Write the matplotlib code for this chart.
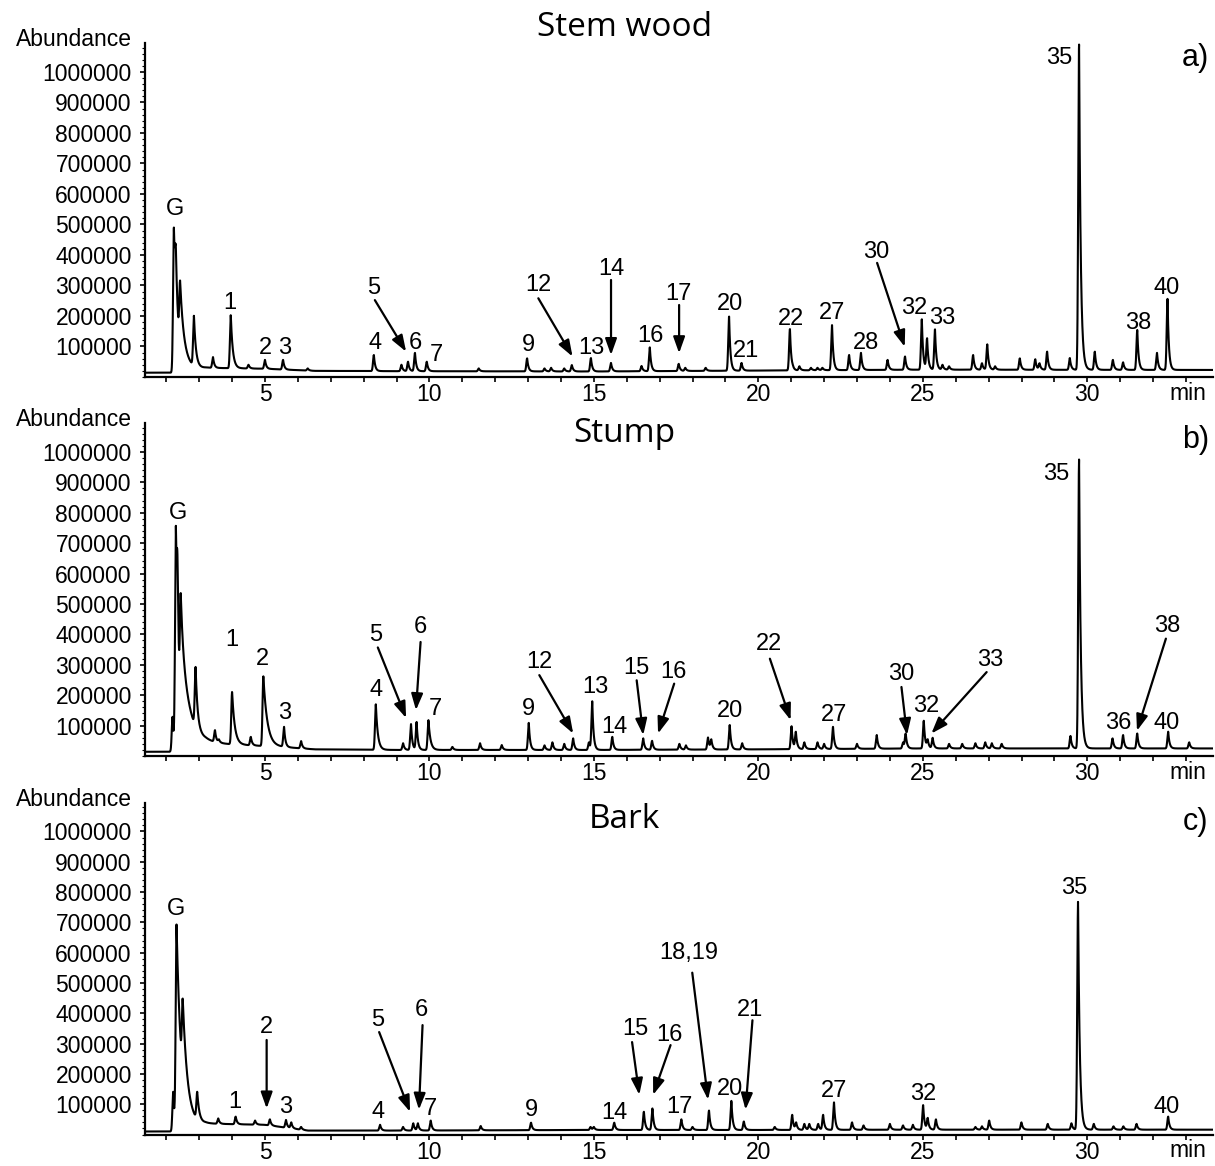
import numpy as np
import matplotlib
matplotlib.use("Agg")
import matplotlib.pyplot as plt
from matplotlib.ticker import MultipleLocator, FuncFormatter

plt.rcParams["font.family"] = ["Liberation Sans", "DejaVu Sans"]

# ---- a) Stem wood ----
stem_base_rt = [1.35, 2.15, 3.2, 5.0, 6.5, 9.0, 15.0, 20.0, 25.0, 33.8]
stem_base_ab = [14000, 14000, 30000, 27000, 20000, 19000, 18000, 21000, 24000, 23000]
stem_tail_rt = [2.23, 2.29, 2.42, 2.84, 3.96, 29.75]
stem_tail_ab = [490000, 423000, 315000, 201000, 203000, 1090000]
stem_tail_tau = [0.08, 0.08, 0.15, 0.06, 0.06, 0.05]
stem_rt = [3.42, 4.5, 5.0, 5.55, 6.3, 8.31, 9.15, 9.35, 9.56, 9.92,
           11.5, 12.97, 13.5, 13.7, 14.1, 14.33, 14.91, 15.52, 16.45, 16.70,
           17.58, 17.78, 18.4, 19.11, 19.49, 20.96, 21.05, 21.25, 21.6, 21.8,
           21.95, 22.24, 22.76, 23.12, 23.93, 24.46, 24.97, 25.13, 25.37, 25.6,
           25.8, 26.53, 26.8, 26.96, 27.2, 27.95, 28.42, 28.55, 28.78, 29.47,
           30.23, 30.78, 31.09, 31.52, 32.12, 32.44]
stem_ab = [65000, 40000, 56000, 56000, 28000, 72000, 40000, 50000, 79000, 50000,
           28000, 61000, 28000, 30000, 28000, 39000, 62000, 46000, 36000, 97000,
           43000, 30000, 30000, 198000, 46000, 157000, 39000, 35000, 30000, 30000,
           30000, 170000, 72000, 79000, 56000, 67000, 189000, 127000, 156000, 40000,
           35000, 72000, 45000, 107000, 35000, 61000, 58000, 45000, 83000, 62000,
           83000, 56000, 48000, 154000, 79000, 256000]

# ---- b) Stump ----
stump_base_rt = [1.35, 2.15, 3.2, 4.4, 5.5, 6.5, 9.0, 15.0, 20.0, 25.0, 33.8]
stump_base_ab = [14000, 14000, 42000, 36000, 30000, 22000, 20000, 20000, 22000, 25000, 25000]
stump_tail_rt = [2.29, 2.34, 2.44, 2.89, 4.0, 4.95, 8.37, 9.97, 29.75]
stump_tail_ab = [757000, 653000, 533000, 293000, 211000, 262000, 170000, 118000, 975000]
stump_tail_tau = [0.06, 0.06, 0.25, 0.06, 0.08, 0.12, 0.06, 0.06, 0.05]
stump_rt = [2.19, 3.48, 3.6, 4.57, 5.58, 6.1, 9.2, 9.44, 9.61, 10.7,
            11.54, 12.2, 13.02, 13.5, 13.74, 14.1, 14.37, 14.85, 14.95, 15.56,
            16.5, 16.77, 17.6, 17.8, 18.47, 18.57, 19.13, 19.51, 21.01, 21.14,
            21.4, 21.8, 22.0, 22.27, 23.0, 23.6, 24.4, 24.48, 25.03, 25.15,
            25.3, 25.8, 26.2, 26.6, 26.9, 27.1, 27.4, 29.49, 30.77, 31.09,
            31.52, 32.46, 33.1]
stump_ab = [129000, 85000, 55000, 63000, 96000, 49000, 42000, 105000, 112000, 30000,
            42000, 36000, 109000, 35000, 45000, 40000, 58000, 45000, 180000, 63000,
            58000, 50000, 40000, 35000, 61000, 55000, 102000, 42000, 98000, 80000,
            45000, 45000, 40000, 96000, 40000, 69000, 45000, 74000, 116000, 55000,
            60000, 40000, 40000, 42000, 45000, 42000, 40000, 66000, 58000, 69000,
            74000, 80000, 45000]

# ---- c) Bark ----
bark_base_rt = [1.35, 2.15, 3.2, 5.0, 6.3, 9.0, 15.0, 20.0, 25.0, 33.8]
bark_base_ab = [10000, 10000, 36000, 32000, 13000, 13000, 15000, 15000, 16000, 16000]
bark_tail_rt = [2.31, 2.50, 2.94, 29.72]
bark_tail_ab = [693000, 447000, 141000, 770000]
bark_tail_tau = [0.15, 0.15, 0.06, 0.05]
bark_rt = [2.21, 3.58, 4.11, 4.7, 5.15, 5.64, 5.8, 6.1, 8.5, 9.2,
           9.51, 9.65, 10.04, 11.56, 13.09, 14.9, 15.0, 15.62, 16.52, 16.78,
           17.66, 18.0, 18.5, 19.18, 19.56, 20.5, 21.03, 21.15, 21.4, 21.55,
           21.82, 21.97, 22.3, 22.85, 23.2, 24.0, 24.4, 24.7, 25.01, 25.15,
           25.4, 26.6, 26.8, 27.02, 28.0, 28.8, 29.52, 30.2, 30.8, 31.1,
           31.5, 32.46]
bark_ab = [141000, 53000, 59000, 46000, 50000, 48000, 40000, 25000, 32000, 25000,
           37000, 37000, 46000, 28000, 39000, 25000, 25000, 39000, 75000, 86000,
           50000, 25000, 79000, 111000, 43000, 25000, 65000, 40000, 35000, 35000,
           35000, 65000, 106000, 40000, 30000, 35000, 30000, 32000, 97000, 55000,
           50000, 25000, 27000, 46000, 40000, 35000, 37000, 35000, 27000, 27000,
           35000, 59000]

# peak labels: (text, x, y) and arrows: (text, x_text, y_text, x_start, y_start, x_tip, y_tip)
stem_labels = [("G", 2.27, 550000), ("1", 3.94, 243000), ("2", 5.02, 94000),
               ("3", 5.61, 94000), ("4", 8.34, 110000), ("6", 9.56, 111000),
               ("7", 10.22, 72000), ("9", 13.0, 105000), ("13", 14.93, 94000),
               ("16", 16.72, 134000), ("20", 19.13, 239000), ("21", 19.61, 86000),
               ("22", 20.98, 190000), ("27", 22.24, 209000), ("28", 23.27, 110000),
               ("32", 24.73, 225000), ("33", 25.6, 192000), ("35", 29.16, 1046000),
               ("38", 31.54, 178000), ("40", 32.41, 291000)]
stem_arrows = [("5", 8.31, 291000, 8.34, 252000, 9.29, 83000),
               ("12", 13.31, 302000, 13.31, 258000, 14.35, 67000),
               ("14", 15.52, 354000, 15.52, 318000, 15.52, 72000),
               ("17", 17.56, 272000, 17.59, 236000, 17.59, 78000),
               ("30", 23.59, 411000, 23.61, 374000, 24.45, 99000)]

stump_labels = [("G", 2.36, 800000), ("1", 4.0, 380000), ("2", 4.91, 318000),
                ("3", 5.61, 141000), ("4", 8.37, 216000), ("7", 10.17, 156000),
                ("9", 13.02, 156000), ("13", 15.03, 227000), ("14", 15.61, 96000),
                ("20", 19.13, 148000), ("27", 22.3, 134000), ("32", 25.09, 164000),
                ("35", 29.07, 928000), ("36", 30.94, 107000), ("40", 32.41, 107000)]
stump_arrows = [("5", 8.37, 397000, 8.43, 357000, 9.29, 125000),
                ("6", 9.71, 424000, 9.73, 375000, 9.59, 151000),
                ("12", 13.34, 309000, 13.34, 266000, 14.37, 74000),
                ("15", 16.30, 288000, 16.30, 249000, 16.5, 69000),
                ("16", 17.43, 276000, 17.44, 238000, 16.95, 74000),
                ("22", 20.33, 367000, 20.35, 320000, 20.98, 118000),
                ("30", 24.33, 271000, 24.35, 227000, 24.52, 69000),
                ("33", 27.04, 317000, 26.94, 276000, 25.26, 74000),
                ("38", 32.44, 426000, 32.39, 386000, 31.51, 83000)]

bark_labels = [("G", 2.29, 744000), ("1", 4.09, 108000), ("3", 5.64, 92000),
               ("4", 8.43, 75000), ("7", 10.04, 85000), ("9", 13.09, 82000),
               ("14", 15.61, 72000), ("17", 17.61, 92000), ("20", 19.13, 151000),
               ("27", 22.29, 144000), ("32", 25.0, 134000), ("35", 29.59, 813000),
               ("40", 32.42, 92000)]
bark_arrows = [("2", 5.05, 354000, 5.05, 312000, 5.05, 86000),
               ("5", 8.43, 377000, 8.47, 338000, 9.41, 75000),
               ("6", 9.76, 410000, 9.79, 361000, 9.68, 82000),
               ("15", 16.25, 348000, 16.16, 305000, 16.38, 131000),
               ("16", 17.31, 328000, 17.33, 295000, 16.8, 131000),
               ("18,19", 17.89, 600000, 17.99, 534000, 18.47, 115000),
               ("21", 19.74, 410000, 19.82, 377000, 19.61, 82000)]

SIGMA = 0.025
TAU = 0.04


def peak_shape(t, t0, tau):
    d = t - t0
    out = np.exp(-d ** 2 / (2 * SIGMA ** 2))
    right = d > 0
    out[right] = np.exp(-d[right] / tau)
    return out


def build_trace(t, base_rt, base_ab, tail_rt, tail_ab, tail_tau, rt, ab):
    """Suma de picos cuyo maximo coincide con la abundancia leida."""
    pk_t = np.array(list(tail_rt) + list(rt), dtype=float)
    pk_v = np.array(list(tail_ab) + list(ab), dtype=float)
    pk_tau = np.array(list(tail_tau) + [TAU] * len(rt), dtype=float)
    base_at_pk = np.interp(pk_t, base_rt, base_ab)
    M = np.column_stack([peak_shape(pk_t, t0, tau) for t0, tau in zip(pk_t, pk_tau)])
    amp = np.linalg.solve(M, pk_v - base_at_pk)
    amp = np.clip(amp, 0, None)
    y = np.interp(t, base_rt, base_ab)
    for t0, tau, a in zip(pk_t, pk_tau, amp):
        y = y + a * peak_shape(t, t0, tau)
    return y


def draw_panel(ax, data, labels, arrows):
    all_rt = list(data[3]) + list(data[5])
    t = np.union1d(np.arange(1.35, 33.82, 0.004), all_rt)
    y = build_trace(t, *data)
    ax.plot(t, y, color="black", lw=1.5)

    for txt, x, yy in labels:
        ax.text(x, yy, txt, ha="center", va="center", fontsize=17)
    for txt, xt, yt, xs, ys, xp, yp in arrows:
        ax.text(xt, yt, txt, ha="center", va="center", fontsize=17)
        ax.annotate("", xy=(xp, yp), xytext=(xs, ys),
                    arrowprops=dict(arrowstyle="-|>,head_length=0.7,head_width=0.25",
                                    mutation_scale=14, lw=1.6, color="black",
                                    shrinkA=0, shrinkB=0))

    ax.set_xlim(1.35, 33.82)
    ax.set_ylim(0, 1095000)
    ax.spines["top"].set_visible(False)
    ax.spines["right"].set_visible(False)
    ax.spines["left"].set_linewidth(1.6)
    ax.spines["bottom"].set_linewidth(1.6)

    ax.xaxis.set_major_locator(MultipleLocator(5))
    ax.xaxis.set_minor_locator(MultipleLocator(1))
    ax.set_yticks(np.arange(100000, 1000001, 100000))
    ax.yaxis.set_minor_locator(MultipleLocator(20000))
    ax.yaxis.set_major_formatter(FuncFormatter(lambda v, p: f"{int(round(v))}"))
    ax.tick_params(axis="x", which="both", direction="out", length=3.5, width=1.2,
                   labelsize=16.5, pad=1)
    ax.tick_params(axis="y", which="major", direction="out", length=3.5, width=1.2,
                   labelsize=16.5, pad=6)
    ax.tick_params(axis="y", which="minor", direction="out", length=2, width=0.8)
    ax.text(0.977, -0.014, "min", transform=ax.transAxes, ha="center", va="top",
            fontsize=16.5)


fig = plt.figure(figsize=(12.15, 11.66), dpi=100)

paneles = [
    ("Stem wood", "a)", [0.1193, 0.6767, 0.879, 0.2864],
     (stem_base_rt, stem_base_ab, stem_tail_rt, stem_tail_ab, stem_tail_tau, stem_rt, stem_ab),
     stem_labels, stem_arrows, 0.976, 0.950),
    ("Stump", "b)", [0.1193, 0.3516, 0.879, 0.2856],
     (stump_base_rt, stump_base_ab, stump_tail_rt, stump_tail_ab, stump_tail_tau, stump_rt, stump_ab),
     stump_labels, stump_arrows, 0.628, 0.623),
    ("Bark", "c)", [0.1193, 0.027, 0.879, 0.2846],
     (bark_base_rt, bark_base_ab, bark_tail_rt, bark_tail_ab, bark_tail_tau, bark_rt, bark_ab),
     bark_labels, bark_arrows, 0.297, 0.295),
]

for titulo, letra, pos, data, labels, arrows, y_tit, y_letra in paneles:
    ax = fig.add_axes(pos)
    draw_panel(ax, data, labels, arrows)
    top_px = pos[1] + pos[3]
    fig.text(0.109, top_px + 0.003, "Abundance", ha="right", va="center", fontsize=16.5)
    fig.text(0.514, y_tit, titulo, ha="center", va="center", fontsize=24,
             family=["Open Sans", "DejaVu Sans"])
    fig.text(0.984, y_letra, letra, ha="center", va="center", fontsize=22)

fig.savefig("out.png", dpi=100)
